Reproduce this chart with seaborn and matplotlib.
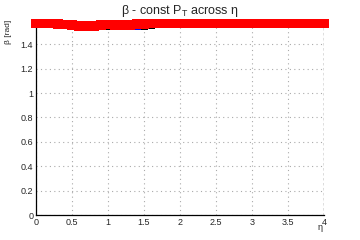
import numpy as np
import pandas as pd
import matplotlib
matplotlib.use("Agg")
import matplotlib.pyplot as plt
import seaborn as sns
from matplotlib.ticker import MultipleLocator, FuncFormatter

eta = [round(0.1 * i, 1) for i in range(41)]
beta_red = [1.571, 1.571, 1.570, 1.566, 1.562, 1.558, 1.552, 1.550, 1.552, 1.556,
            1.562, 1.560, 1.556, 1.558, 1.564, 1.568, 1.570, 1.571, 1.571, 1.571,
            1.571, 1.571, 1.571, 1.571, 1.571, 1.571, 1.571, 1.571, 1.571, 1.571,
            1.571, 1.571, 1.571, 1.571, 1.571, 1.571, 1.571, 1.571, 1.571, 1.571, 1.571]
eta_black = [0.6, 0.7, 0.8, 0.9, 1.0, 1.1, 1.2, 1.5, 1.6]
beta_black = [1.540, 1.538, 1.540, 1.545, 1.550, 1.548, 1.545, 1.552, 1.556]
eta_blue = [1.2, 1.3, 1.4]
beta_blue = [1.548, 1.548, 1.552]

sns.set_style("white")
plt.rcParams['font.family'] = ['Liberation Sans', 'DejaVu Sans']
plt.rcParams['mathtext.default'] = 'regular'

fig = plt.figure(figsize=(3.6, 2.4), dpi=100)
ax = fig.add_axes([0.1, 0.104, 0.8, 0.813])

sns.scatterplot(x=eta_black, y=beta_black, ax=ax, marker='s', s=30, color='black',
                edgecolor='none', linewidth=0, zorder=2)
sns.scatterplot(x=eta_blue, y=beta_blue, ax=ax, marker='s', s=30, color='blue',
                edgecolor='none', linewidth=0, zorder=2)
sns.scatterplot(x=eta, y=beta_red, ax=ax, marker='s', s=50, color='red',
                edgecolor='none', linewidth=0, zorder=3, clip_on=False)

ax.set_xlim(0, 4)
ax.set_ylim(0, 1.6)
ax.xaxis.set_major_locator(MultipleLocator(0.5))
ax.xaxis.set_minor_locator(MultipleLocator(0.1))
ax.yaxis.set_major_locator(MultipleLocator(0.2))
ax.yaxis.set_minor_locator(MultipleLocator(0.05))
fmt = FuncFormatter(lambda v, p: ('%g' % round(v, 2)))
ax.xaxis.set_major_formatter(fmt)
ax.yaxis.set_major_formatter(fmt)
ax.set_yticks([0, 0.2, 0.4, 0.6, 0.8, 1.0, 1.2, 1.4])

ax.grid(True, which='major', linestyle=(0, (1, 3)), color='#aaaaaa', linewidth=0.8)
ax.tick_params(axis='both', which='major', direction='in', length=5, width=0.8,
               labelsize=6.5, pad=2, top=False, right=False)
ax.tick_params(axis='both', which='minor', direction='in', length=2.5, width=0.8,
               top=False, right=False)

for side in ['top', 'right']:
    ax.spines[side].set_visible(False)
for side in ['left', 'bottom']:
    ax.spines[side].set_color('black')
    ax.spines[side].set_linewidth(0.9)
ax.axvline(4, color='black', linestyle=(0, (2, 2)), linewidth=0.9, zorder=1)

ax.set_xlabel('')
ax.set_ylabel('')
fig.text(0.895, 0.05, 'η', fontsize=6.5, ha='right', va='center')
fig.text(0.025, 0.917, 'β [rad]', fontsize=6, rotation=90, ha='center', va='top')
fig.text(0.5, 0.955, 'β - const P$_{T}$ across η', fontsize=9, ha='center', va='center')

fig.savefig('out.png', dpi=100)
